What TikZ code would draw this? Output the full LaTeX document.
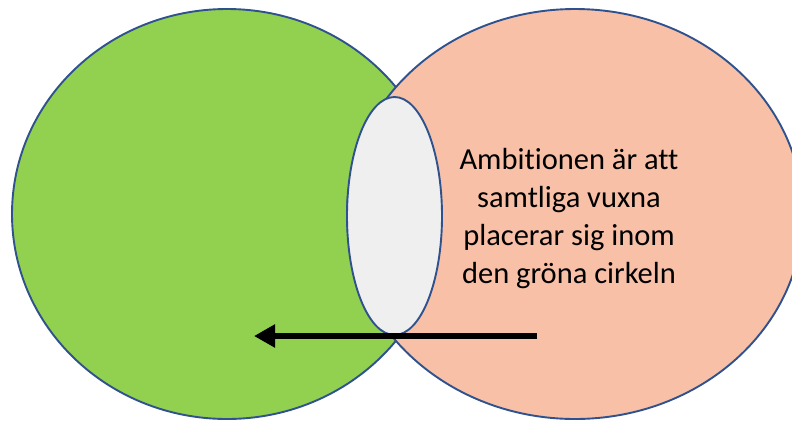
\documentclass[tikz,border=0pt]{standalone}
\usepackage{fontspec}
\setmainfont[Ligatures={NoCommon}]{Carlito}
\usetikzlibrary{shapes.geometric,arrows.meta}
\definecolor{outl}{HTML}{2F528F}
\definecolor{greenf}{HTML}{92D050}
\definecolor{pinkf}{HTML}{F7C0A7}
\definecolor{greyf}{HTML}{EFEFEF}
\tikzset{
  blob/.style={ellipse, draw=outl, line width=1.9pt, inner sep=0pt},
  label/.style={align=center, font=\fontsize{30.5pt}{38pt}\selectfont, text=black},
  arr/.style={line width=6pt, -{Triangle[length=21pt,width=22pt]}}
}
\begin{document}
\begin{tikzpicture}[x=1pt,y=-1pt]
\useasboundingbox (0,0) rectangle (792,421);
\clip (0,0) rectangle (792,421);
\node[blob, fill=greenf, minimum width=430pt, minimum height=410pt] (green) at (227,214) {};
\node[blob, fill=pinkf, minimum width=456pt, minimum height=410pt] (pink) at (575,214) {};
\node[blob, fill=greyf, minimum width=95pt, minimum height=238pt] (grey) at (394.5,216) {};
\node[label] (txt) at (569,219) {Ambitionen är att\\samtliga vuxna\\placerar sig inom\\den gröna cirkeln};
\coordinate (start) at (537,336);
\coordinate (target) at (254,336);
\draw[arr] (start) -- (target);
\end{tikzpicture}
\end{document}
